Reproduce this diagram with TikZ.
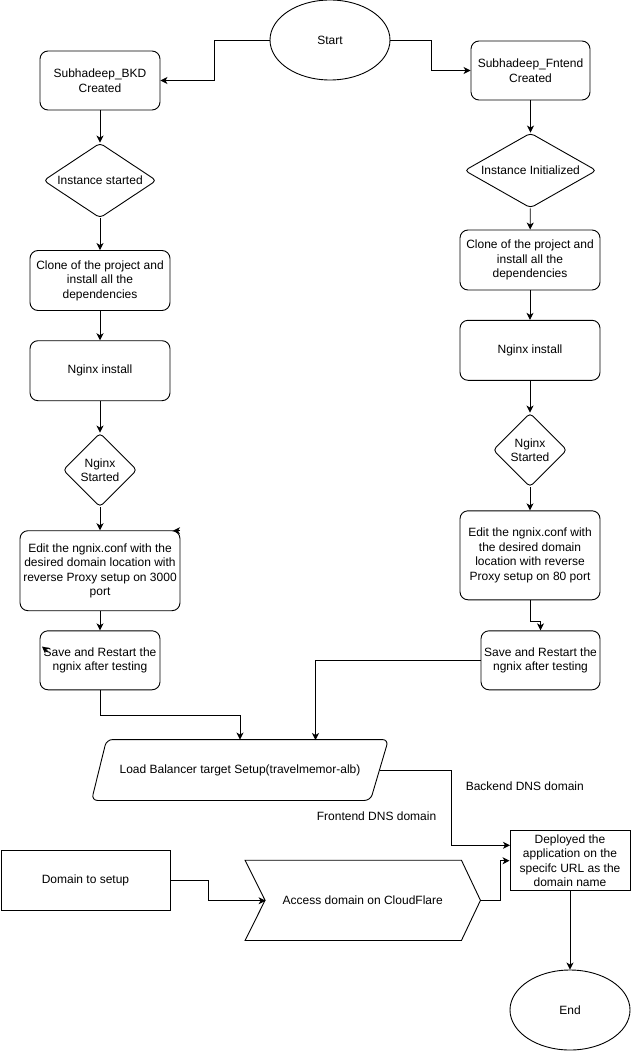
\documentclass[tikz,border=0pt]{standalone}
\usepackage{fontspec}
\setmainfont{Liberation Sans}
\usepackage{tikz}
\usetikzlibrary{arrows.meta,shapes,positioning,calc}

\begin{document}
\begin{tikzpicture}[x = 1pt, y = -1pt, line width = .9pt,
  font = \fontsize{12}{14.5}\selectfont,
  stepbox/.style = {draw, rounded corners = 8pt, align = center, inner sep = 0pt},
  plainbox/.style = {draw, align = center, inner sep = 0pt},
  check/.style = {draw, diamond, rounded corners = 4pt, align = center, inner sep = 0pt},
  term/.style = {draw, ellipse, minimum width = 120pt, minimum height = 80pt},
  flow/.style = {-{Stealth[length = 7pt, width = 7pt, inset = 2pt]}}]
\useasboundingbox (0,0) rectangle (631,1051);
% start and the two instances
\node[term] (start) at (330, 40) {Start};
\node[stepbox, minimum width = 120pt, minimum height = 59pt] (bkd) at (100, 80.5) {Subhadeep\_BKD\\Created};
\node[stepbox, minimum width = 119pt, minimum height = 59pt] (fnt) at (530.5, 70.5) {Subhadeep\_Fntend\\Created};
% backend column
\node[check, aspect = 1.5, minimum width = 113pt, minimum height = 75pt] (bkdstart) at (100, 180.5) {Instance started};
\node[stepbox, minimum width = 140pt, minimum height = 60pt] (bkdclone) at (100, 280.5) {Clone of the project and\\install all the\\dependencies};
\node[stepbox, minimum width = 140pt, minimum height = 60pt] (bkdnginx) at (100, 370.7) {Nginx install};
\node[check, minimum width = 74pt, minimum height = 74pt] (bkdrun) at (100, 470) {Nginx\\Started};
\node[stepbox, minimum width = 160pt, minimum height = 80pt] (bkdedit) at (100, 570.7) {Edit the ngnix.conf with the\\desired domain location with\\reverse Proxy setup on 3000\\port};
\node[stepbox, minimum width = 120pt, minimum height = 59pt] (bkdsave) at (100, 660.3) {Save and Restart the\\ngnix after testing};
% frontend column
\node[check, aspect = 1.76, minimum width = 132pt, minimum height = 75pt] (fntstart) at (530.5, 170.5) {Instance Initialized};
\node[stepbox, minimum width = 140pt, minimum height = 60pt] (fntclone) at (530, 260) {Clone of the project and\\install all the\\dependencies};
\node[stepbox, minimum width = 140pt, minimum height = 60pt] (fntnginx) at (530, 350.3) {Nginx install};
\node[check, minimum width = 74pt, minimum height = 74pt] (fntrun) at (530, 450) {Nginx\\Started};
\node[stepbox, minimum width = 140pt, minimum height = 89pt] (fntedit) at (530, 555.3) {Edit the ngnix.conf with\\the desired domain\\location with reverse\\Proxy setup on 80 port};
\node[stepbox, minimum width = 119pt, minimum height = 59pt] (fntsave) at (540.5, 660.3) {Save and Restart the\\ngnix after testing};
% load balancer and domain
\node[minimum width = 280pt, minimum height = 60pt, inner sep = 0pt] (lb) at (240, 770) {Load Balancer target Setup(travelmemor-alb)};
\draw[rounded corners = 6pt] ($(lb.north west)+(7,0)$) -- ($(lb.north east)+(8,0)$) -- ($(lb.south east)+(-10,0)$) -- ($(lb.south west)+(-8,0)$) -- cycle;
\node[anchor = west] (bkddns) at (462, 786) {Backend DNS domain};
\node[anchor = east] (fntdns) at (440, 816) {Frontend DNS domain};
\node[plainbox, minimum width = 120pt, minimum height = 60pt] (deploy) at (570, 860.7) {Deployed the\\application on the\\specifc URL as the\\domain name};
\node[plainbox, minimum width = 169pt, minimum height = 60pt] (domain) at (85.5, 880.7) {Domain to setup};
\node[minimum width = 234.5pt, minimum height = 79.3pt, inner sep = 0pt] (access) at (362.75, 900.35) {Access domain on CloudFlare};
\draw ($(access.north west)$) -- ($(access.north east)+(-19,0)$) -- (access.east) -- ($(access.south east)+(-19,0)$) -- (access.south west) -- ($(access.west)+(20,0)$) -- cycle;
\node[term] (finish) at (570, 1010) {End};
% free ends
\coordinate (lbright) at (315.5, 740);
\coordinate (deployin) at (510, 845.3);
\coordinate (accessin) at (265.6, 900.7);
\coordinate (strayedit) at (180, 530.7);
\coordinate (straysave) at (48, 651.5);
% connectors
\draw[flow] (start.west) -- ++(-55,0) |- (bkd.east);
\draw[flow] (start.east) -- ++(40.6,0) |- (fnt.west);
\draw[flow] (bkd) -- (bkdstart);
\draw[flow] (bkdstart) -- (bkdclone);
\draw[flow] (bkdclone) -- (bkdnginx);
\draw[flow] (bkdnginx) -- (bkdrun);
\draw[flow] (bkdrun) -- (bkdedit);
\draw[flow] (bkdedit) -- (bkdsave);
\draw[flow] (fnt) -- (fntstart);
\draw[flow] (fntstart) -- (fntclone);
\draw[flow] (fntclone) -- (fntnginx);
\draw[flow] (fntnginx) -- (fntrun);
\draw[flow] (fntrun) -- (fntedit);
\draw[flow] (fntedit.south) -- ++(0,20.7) -| (fntsave.north);
\draw[flow] (bkdsave.south) -- ++(0,25) -| (lb.north);
\draw[flow] (fntsave.west) -| (lbright);
\draw[flow] (lb.east) -- ++(70.7,0) |- (deployin);
\draw[flow] (domain.east) -- ++(37.6,0) |- (accessin);
\draw[flow] (access.east) -- ++(20,0) |- (deploy.west);
\draw[flow] (deploy) -- (finish);
\draw[flow] (strayedit) -- ++(-7,0);
\draw[flow] (straysave) -- ++(-6,-5);
\end{tikzpicture}
\end{document}
